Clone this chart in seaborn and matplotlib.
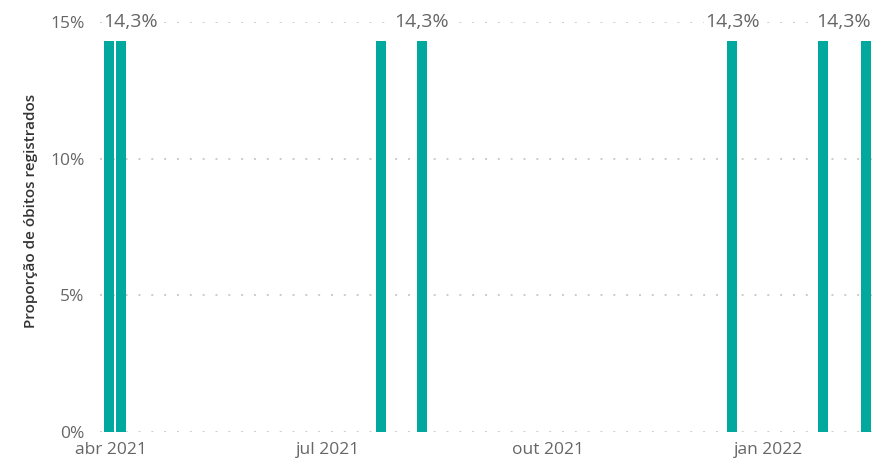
import matplotlib
matplotlib.use("Agg")
import matplotlib.pyplot as plt
import matplotlib.dates as mdates
import seaborn as sns
import pandas as pd
import numpy as np

# ---- data ----
dates = ["2021-03-31", "2021-04-05", "2021-07-23", "2021-08-09",
         "2021-12-17", "2022-01-24", "2022-02-11"]
proporcao = [0.143, 0.143, 0.143, 0.143, 0.143, 0.143, 0.143]
label_text = ["14,3%", "", "", "14,3%", "14,3%", "", "14,3%"]
xtick_dates = ["2021-04-01", "2021-07-01", "2021-10-01", "2022-01-01"]
xtick_labels = ["abr 2021", "jul 2021", "out 2021", "jan 2022"]
ytick_values = [0, 0.05, 0.10, 0.15]
ytick_labels = ["0%", "5%", "10%", "15%"]
ylabel = "Proporção de óbitos registrados"

sns.set_theme(style="white")
plt.rcParams["font.family"] = ["Open Sans", "DejaVu Sans"]

BAR = "#01A89E"
GRAY = "#666666"

df = pd.DataFrame({
    "d": mdates.date2num(pd.to_datetime(dates)),
    "p": proporcao,
})

fig = plt.figure(figsize=(8.74, 4.62), dpi=100)
L, R, B, T = 100 / 874, 873 / 874, 1 - 432 / 462, 1 - 22 / 462
ax = fig.add_axes([L, B, R - L, T - B])

# gridlines
for v in ytick_values:
    ax.axhline(v, color="#CCCCCC", lw=1.4, ls=(0, (1, 5.6)), zorder=0)

sns.barplot(data=df, x="d", y="p", native_scale=True, width=0.84,
            color=BAR, saturation=1, ax=ax, zorder=2, errorbar=None,
            linewidth=0, edgecolor="none")

x0 = mdates.date2num(pd.Timestamp("2021-04-01")) - 4.6
x1 = mdates.date2num(pd.Timestamp("2022-01-01")) + 43.9
ax.set_xlim(x0, x1)
ax.set_ylim(0, 0.15)

# data labels (clamped inside plot area like the original)
half = 0.84 * 5 / 2
for i, (d, p, t) in enumerate(zip(df["d"], df["p"], label_text)):
    if not t:
        continue
    if i == 0:
        x, ha = d - half, "left"
    elif i == len(df) - 1:
        x, ha = d + half, "right"
    else:
        x, ha = d, "center"
    ax.text(x, 0.15, t, ha=ha, va="center", fontsize=14, color=GRAY,
            clip_on=False, zorder=3,
            bbox=dict(boxstyle="square,pad=0.05", fc="white", ec="none"))

ax.set_xticks(mdates.date2num(pd.to_datetime(xtick_dates)))
ax.set_xticklabels(xtick_labels)
ax.set_yticks(ytick_values)
ax.set_yticklabels(ytick_labels)
ax.tick_params(axis="x", length=0, pad=7, labelsize=12.5, labelcolor=GRAY)
ax.tick_params(axis="y", length=0, pad=11, labelsize=12.5, labelcolor=GRAY)
ax.set_xlabel("")
ax.set_ylabel(ylabel, fontsize=11, color="#333333", fontweight="semibold")
ax.yaxis.set_label_coords(-(100 - 38) / 773, 0.54)
for s in ax.spines.values():
    s.set_visible(False)
ax.grid(False)

fig.savefig("out.png", dpi=100, facecolor="white")
